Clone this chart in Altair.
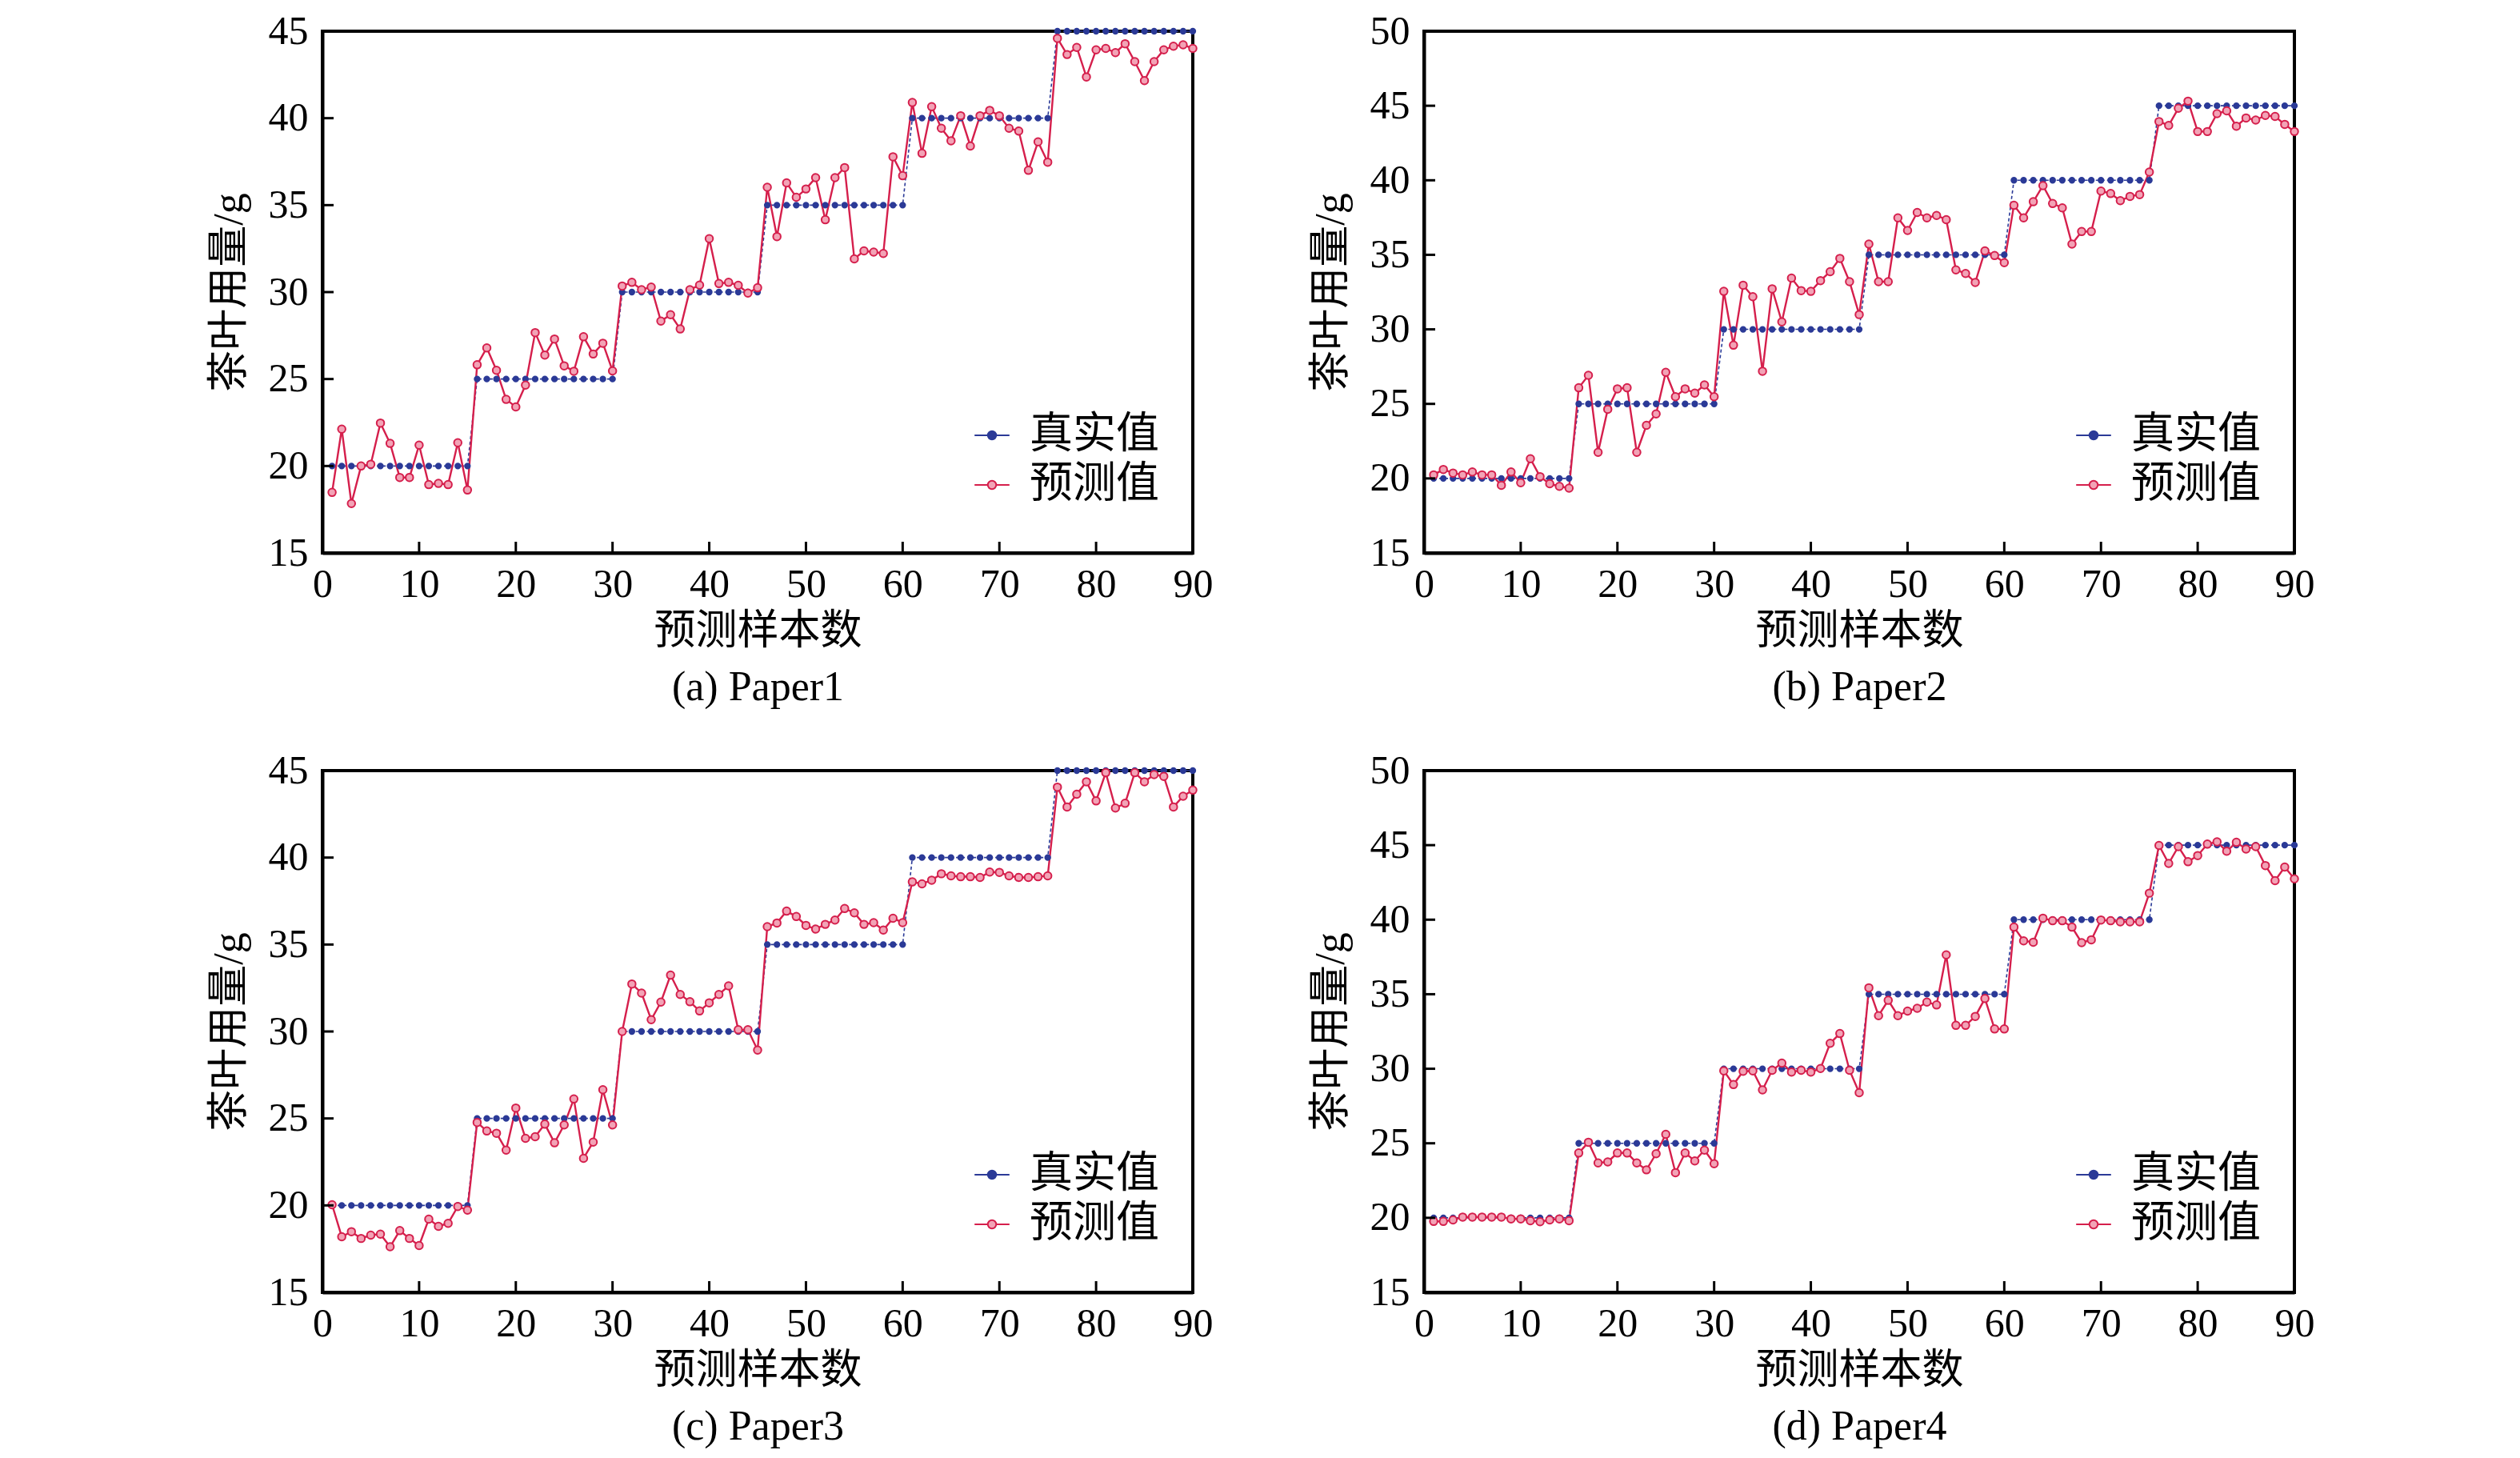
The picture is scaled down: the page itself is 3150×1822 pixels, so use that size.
import altair as alt
import pandas as pd

FONT = "Liberation Serif, Noto Sans CJK SC"
BLUE = "#2b3a97"
RED = "#d51f4c"
PINK = "#f2a3b6"

x_idx = list(range(1, 91))
x_ticks = [0, 10, 20, 30, 40, 50, 60, 70, 80, 90]
y_ticks_45 = [15, 20, 25, 30, 35, 40, 45]
y_ticks_50 = [15, 20, 25, 30, 35, 40, 45, 50]
series_names = ["真实值", "预测值"]
captions = ["(a) Paper1", "(b) Paper2", "(c) Paper3", "(d) Paper4"]

true_vals = [
    20, 20, 20, 20, 20, 20, 20, 20, 20, 20, 20, 20, 20, 20, 20,
    25, 25, 25, 25, 25, 25, 25, 25, 25, 25, 25, 25, 25, 25, 25,
    30, 30, 30, 30, 30, 30, 30, 30, 30, 30, 30, 30, 30, 30, 30,
    35, 35, 35, 35, 35, 35, 35, 35, 35, 35, 35, 35, 35, 35, 35,
    40, 40, 40, 40, 40, 40, 40, 40, 40, 40, 40, 40, 40, 40, 40,
    45, 45, 45, 45, 45, 45, 45, 45, 45, 45, 45, 45, 45, 45, 45,
]

pred_a = [
    18.48, 22.12, 17.84, 20.0, 20.1, 22.47, 21.3, 19.34, 19.34, 21.2, 18.93, 19.0, 18.93, 21.34, 18.62,
    25.82, 26.79, 25.5, 23.83, 23.4, 24.65, 27.67, 26.38, 27.3, 25.76, 25.45, 27.43, 26.44, 27.06, 25.47,
    30.35, 30.56, 30.14, 30.29, 28.33, 28.7, 27.88, 30.14, 30.4, 33.07, 30.49, 30.56, 30.39, 29.94, 30.25,
    36.03, 33.19, 36.28, 35.45, 35.93, 36.58, 34.16, 36.58, 37.16, 31.91, 32.37, 32.3, 32.22, 37.78, 36.69,
    40.9, 37.98, 40.66, 39.42, 38.7, 40.14, 38.4, 40.14, 40.45, 40.14, 39.42, 39.26, 37.0, 38.64, 37.47,
    44.59, 43.66, 44.07, 42.37, 43.93, 44.01, 43.77, 44.28, 43.25, 42.16, 43.25, 43.93, 44.14, 44.22, 44.01,
]
pred_b = [
    20.24, 20.6, 20.36, 20.24, 20.43, 20.24, 20.24, 19.54, 20.43, 19.71, 21.32, 20.12, 19.64, 19.47, 19.35,
    26.08, 26.92, 21.75, 24.64, 26.01, 26.08, 21.75, 23.56, 24.33, 27.12, 25.48, 26.01, 25.72, 26.27, 25.48,
    32.55, 28.94, 32.96, 32.19, 27.19, 32.72, 30.5, 33.44, 32.6, 32.55, 33.27, 33.87, 34.76, 33.2, 30.99,
    35.72, 33.2, 33.2, 37.48, 36.63, 37.84, 37.48, 37.64, 37.36, 33.99, 33.75, 33.15, 35.26, 34.95, 34.47,
    38.32, 37.48, 38.56, 39.64, 38.44, 38.15, 35.72, 36.56, 36.56, 39.28, 39.11, 38.63, 38.92, 39.04, 40.55,
    43.94, 43.68, 44.83, 45.31, 43.27, 43.27, 44.47, 44.66, 43.63, 44.18, 44.04, 44.35, 44.28, 43.75, 43.27,
]
pred_c = [
    20.04, 18.2, 18.49, 18.1, 18.29, 18.35, 17.62, 18.55, 18.1, 17.69, 19.21, 18.8, 18.97, 19.94, 19.73,
    24.77, 24.28, 24.15, 23.18, 25.6, 23.86, 23.95, 24.67, 23.6, 24.63, 26.12, 22.71, 23.64, 26.65, 24.63,
    30.0, 32.73, 32.21, 30.68, 31.69, 33.24, 32.13, 31.71, 31.18, 31.65, 32.13, 32.62, 30.1, 30.1, 28.93,
    36.03, 36.24, 36.92, 36.61, 36.1, 35.89, 36.16, 36.41, 37.07, 36.82, 36.16, 36.26, 35.83, 36.51, 36.26,
    38.6, 38.49, 38.7, 39.07, 38.95, 38.9, 38.9, 38.86, 39.17, 39.15, 38.95, 38.86, 38.86, 38.9, 38.95,
    44.05, 42.91, 43.64, 44.36, 43.26, 44.88, 42.85, 43.12, 44.88, 44.36, 44.77, 44.67, 42.91, 43.53, 43.88,
]
pred_d = [
    19.76, 19.76, 19.86, 20.05, 20.05, 20.05, 20.05, 20.05, 19.93, 19.93, 19.81, 19.74, 19.86, 19.93, 19.81,
    24.35, 25.07, 23.68, 23.75, 24.35, 24.35, 23.68, 23.22, 24.3, 25.6, 23.03, 24.35, 23.82, 24.54, 23.63,
    29.86, 28.94, 29.83, 29.86, 28.58, 29.9, 30.38, 29.78, 29.9, 29.78, 30.02, 31.71, 32.36, 29.9, 28.39,
    35.43, 33.56, 34.59, 33.56, 33.87, 34.06, 34.47, 34.28, 37.64, 32.91, 32.91, 33.51, 34.71, 32.67, 32.67,
    39.5, 38.58, 38.49, 40.1, 39.93, 39.93, 39.5, 38.46, 38.65, 39.98, 39.93, 39.86, 39.86, 39.86, 41.78,
    44.98, 43.77, 44.9, 43.89, 44.3, 45.07, 45.22, 44.59, 45.19, 44.74, 44.9, 43.63, 42.62, 43.53, 42.74,
]

W, H = 1088, 652
TICK = 14
SYMBOL = "M-1,0H-0.24M0.24,0H1M0.24,0A0.24,0.24,0,1,1,-0.24,0A0.24,0.24,0,1,1,0.24,0Z"


def panel(pred, ymax, yticks, caption):
    df = pd.DataFrame({
        "x": x_idx + x_idx,
        "y": true_vals + pred,
        "series": [series_names[0]] * 90 + [series_names[1]] * 90,
    })
    df_true = df[df.series == series_names[0]]
    df_pred = df[df.series == series_names[1]]
    xs = alt.Scale(domain=[0, 90], nice=False)
    ys = alt.Scale(domain=[15, ymax], nice=False)
    x_enc = alt.X("x:Q", scale=xs, axis=alt.Axis(
        values=x_ticks, title=["预测样本数", caption], titleLineHeight=70,
        labelPadding=14, titlePadding=8, ticks=False, tickSize=0, format="d",
        labelFlush=False, labelOverlap=False))
    y_enc = alt.Y("y:Q", scale=ys, axis=alt.Axis(
        values=yticks, title="茶叶用量/g", labelPadding=18, titlePadding=22,
        ticks=False, tickSize=0, format="d", labelFlush=False, labelOverlap=False))

    legend = alt.Legend(title=None, orient="none", legendX=810, legendY=478,
                        symbolType=SYMBOL, symbolSize=1900, symbolStrokeWidth=2,
                        labelFont=FONT, labelFontSize=54, labelColor="black",
                        labelLimit=0, rowPadding=8, labelOffset=20)
    color = alt.Color("series:N", scale=alt.Scale(domain=series_names, range=[BLUE, RED]),
                      legend=legend)
    fill = alt.Fill("series:N", scale=alt.Scale(domain=series_names, range=[BLUE, PINK]),
                    legend=legend)
    size = alt.Size("series:N", scale=alt.Scale(domain=series_names, range=[40, 90]), legend=None)

    line_true = alt.Chart(df_true).mark_line(color=BLUE, strokeWidth=1.6, strokeDash=[4, 3]).encode(
        x=x_enc, y=y_enc)
    line_pred = alt.Chart(df_pred).mark_line(color=RED, strokeWidth=2.4).encode(x=x_enc, y=y_enc)
    pts = alt.Chart(df).mark_point(shape="circle", filled=False, opacity=1, strokeWidth=2).encode(
        x=x_enc, y=y_enc, color=color, fill=fill, size=size)

    xt = pd.DataFrame({"x": x_ticks[1:-1]})
    yt = pd.DataFrame({"y": yticks[1:-1]})
    xtick = alt.Chart(xt).mark_rule(color="black", strokeWidth=3).encode(
        x=x_enc, y=alt.value(H), y2=alt.value(H - TICK))
    ytick = alt.Chart(yt).mark_rule(color="black", strokeWidth=3).encode(
        y=y_enc, x=alt.value(0), x2=alt.value(TICK))

    return alt.layer(line_true, line_pred, pts, xtick, ytick).properties(width=W, height=H)


pa = panel(pred_a, 45, y_ticks_45, captions[0])
pb = panel(pred_b, 50, y_ticks_50, captions[1])
pc = panel(pred_c, 45, y_ticks_45, captions[2])
pd_ = panel(pred_d, 50, y_ticks_50, captions[3])

res = dict(x="independent", y="independent")
top = alt.hconcat(pa, pb, spacing=117).resolve_scale(**res).resolve_legend(color="independent", fill="independent")
bot = alt.hconcat(pc, pd_, spacing=117).resolve_scale(**res).resolve_legend(color="independent", fill="independent")

chart = alt.vconcat(top, bot, spacing=50).resolve_scale(**res).resolve_legend(
    color="independent", fill="independent"
).properties(
    padding={"left": 250, "top": 4, "right": 5, "bottom": 5},
    background="white",
).configure_view(
    stroke="black", strokeWidth=4
).configure_axis(
    labelFont=FONT, titleFont=FONT, labelFontSize=50, titleFontSize=52,
    labelColor="black", titleColor="black", domainColor="black", domainWidth=4,
    grid=False, titleFontWeight="normal"
)

chart.save("out.html", embed_options={"renderer": "svg", "actions": False})
